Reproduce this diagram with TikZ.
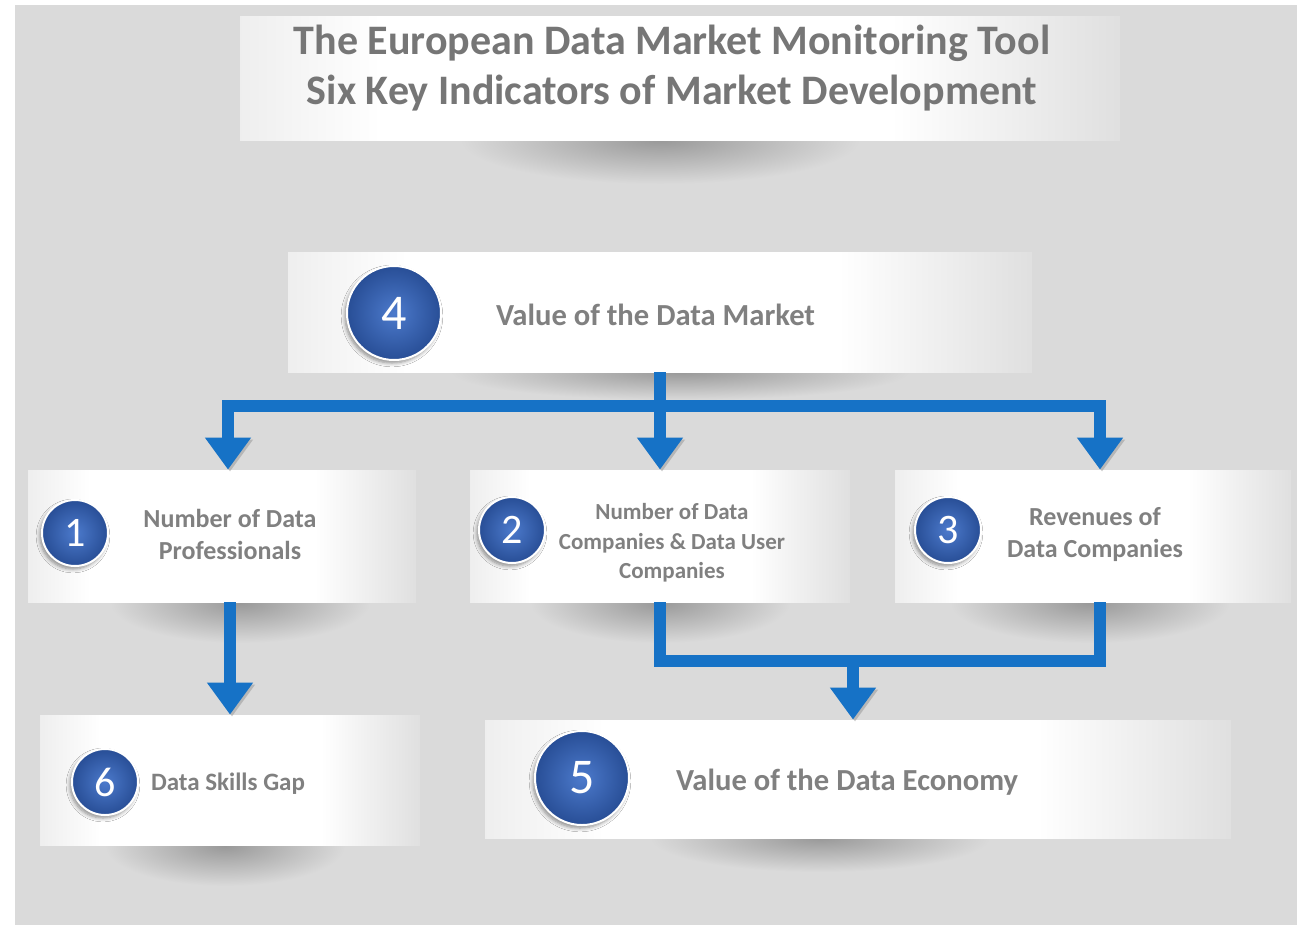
\documentclass[tikz,border=0pt]{standalone}
\usepackage{fontspec}
\setmainfont{Carlito}
\usetikzlibrary{arrows.meta,backgrounds,shadows.blur}
\definecolor{panelgray}{RGB}{218,218,218}
\definecolor{flowblue}{RGB}{22,114,198}
\definecolor{ballin}{RGB}{76,122,204}
\definecolor{ballout}{RGB}{40,78,150}
\definecolor{titlegray}{RGB}{118,118,118}
\definecolor{labelgray}{RGB}{128,128,128}
\colorlet{fadeleft}{panelgray!45!white}
\colorlet{faderight}{panelgray!85!white}
\pgfdeclarehorizontalshading{bannerfade}{100bp}{color(0bp)=(fadeleft); color(25bp)=(fadeleft);
  color(33bp)=(white); color(62bp)=(white); color(75bp)=(faderight); color(100bp)=(faderight)}

\tikzset{
  banner/.style={rectangle, inner sep=0pt, shade, shading=bannerfade, shading angle=0},
  softshadow/.style={inner color=black!30!panelgray, outer color=panelgray},
  ball/.style={circle, draw=white, line width=1pt, inner sep=0pt,
    inner color=ballin, outer color=ballout, text=white,
    blur shadow={shadow xshift=-1pt, shadow yshift=-1.5pt, shadow blur steps=6, shadow opacity=45}},
  bigball/.style={ball, minimum size=47pt, font=\fontsize{25}{25}\selectfont},
  smallball/.style={ball, minimum size=33pt, font=\fontsize{21}{21}\selectfont},
  boxtext/.style={text=labelgray, align=center, font=\bfseries\fontsize{13}{16}\selectfont},
  conn/.style={draw=flowblue, line width=6pt,
    preaction={draw=black!45, opacity=.45, transform canvas={xshift=1pt, yshift=-1pt}}},
  tip/.style={-{Triangle[width=22pt, length=16pt]}}
}

\begin{document}
\begin{tikzpicture}[x=0.5pt, y=-0.5pt]
\useasboundingbox (0,0) rectangle (1301,928);

% banners
\node[banner, minimum width=440pt, minimum height=62pt] (title) at (680,78) {};
\node[banner, minimum width=372pt, minimum height=60pt] (b4) at (660,312) {};
\node[banner, minimum width=194pt, minimum height=66pt] (b1) at (222,536) {};
\node[banner, minimum width=190pt, minimum height=66pt] (b2) at (660,536) {};
\node[banner, minimum width=198pt, minimum height=66pt] (b3) at (1093,536) {};
\node[banner, minimum width=190pt, minimum height=65pt] (b6) at (230,780) {};
\node[banner, minimum width=373pt, minimum height=59pt] (b5) at (858,779) {};

% texts
\node[text=titlegray, align=center, font=\bfseries\fontsize{21}{25}\selectfont] (head) at (672,68)
  {The European Data Market Monitoring Tool\\Six Key Indicators of Market Development};

\node[bigball] (c4) at (394,313) {4};
\node[boxtext, anchor=west, font=\bfseries\fontsize{15.3}{18}\selectfont] (l4) at (489,315) {Value of the Data Market};
\node[smallball] (c1) at (75,533) {1};
\node[boxtext] (l1) at (230,534) {Number of Data\\Professionals};
\node[smallball] (c2) at (512,530) {2};
\node[boxtext, font=\bfseries\fontsize{11.5}{14.8}\selectfont] (l2) at (672,543) {Number of Data\\Companies \& Data User\\Companies};
\node[smallball] (c3) at (948,530) {3};
\node[boxtext] (l3) at (1095,534) {Revenues of\\Data Companies};
\node[smallball] (c6) at (105,782) {6};
\node[boxtext, anchor=west, font=\bfseries\fontsize{12.5}{15}\selectfont] (l6) at (144,784) {Data Skills Gap};
\node[bigball] (c5) at (582,778) {5};
\node[boxtext, anchor=west, font=\bfseries\fontsize{15.3}{18}\selectfont] (l5) at (669,782) {Value of the Data Economy};

% connectors
\coordinate (split) at (660,406);
\coordinate (merge) at (853,661);
\draw[conn, tip] (b4.south) -- (b2.north);
\draw[conn, tip] (split) -| ([xshift=3pt]b1.north);
\draw[conn, tip] (split) -| ([xshift=3.5pt]b3.north);
\draw[conn, tip] (b6.north |- b1.south) -- (b6.north);
\draw[conn] (b2.south) |- (merge) -| ([xshift=3.5pt]b3.south);
\draw[conn, tip] (merge) -- (merge |- b5.north);

\begin{scope}[on background layer]
\fill[white] (0,0) rectangle (1301,928);
\fill[panelgray] (15,5) rectangle (1297,925);
\shade[softshadow] (660,140) ellipse [x radius=100pt, y radius=22pt];
\shade[softshadow] (680,372) ellipse [x radius=115pt, y radius=14pt];
\shade[softshadow] (240,603) ellipse [x radius=65pt, y radius=20pt];
\shade[softshadow] (660,603) ellipse [x radius=65pt, y radius=20pt];
\shade[softshadow] (1090,603) ellipse [x radius=70pt, y radius=20pt];
\shade[softshadow] (225,846) ellipse [x radius=60pt, y radius=20pt];
\shade[softshadow] (820,838) ellipse [x radius=85pt, y radius=17pt];
\end{scope}
\end{tikzpicture}
\end{document}
